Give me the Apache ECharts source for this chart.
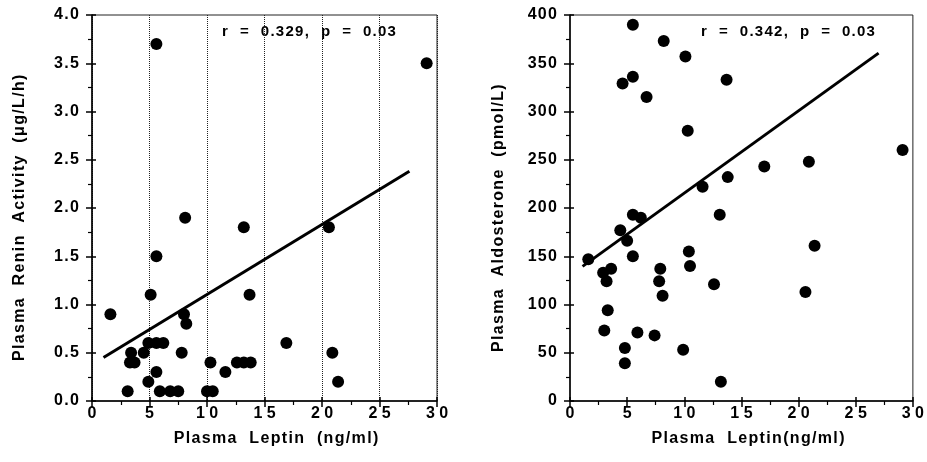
<!DOCTYPE html>
<html><head><meta charset="utf-8">
<script src="https://cdn.jsdelivr.net/npm/echarts@6/dist/echarts.min.js"></script>
<style>html,body{margin:0;padding:0;background:#fff}#c{width:927px;height:462px}</style>
</head><body><div id="c"></div>
<script>
// Left panel: Plasma Leptin (ng/ml) vs Plasma Renin Activity (µg/L/h)
const reninPoints = [
  [1.6,0.9],[3.1,0.1],[3.4,0.5],[3.3,0.4],[3.7,0.4],[4.5,0.5],[4.9,0.6],[5.6,0.6],[6.2,0.6],
  [4.9,0.2],[5.1,1.1],[5.6,1.5],[5.6,0.3],[5.6,3.7],[5.9,0.1],[6.8,0.1],[7.5,0.1],[7.8,0.5],
  [8.0,0.9],[8.2,0.8],[8.1,1.9],[10.3,0.4],[10.0,0.1],[10.5,0.1],[11.6,0.3],[12.6,0.4],
  [13.2,0.4],[13.8,0.4],[13.2,1.8],[13.7,1.1],[16.9,0.6],[20.6,1.8],[20.9,0.5],[21.4,0.2],[29.1,3.5]
];
const reninFit = [[1.0,0.45],[27.6,2.38]];
// Right panel: Plasma Leptin (ng/ml) vs Plasma Aldosterone (pmol/L)
const aldoPoints = [
  [1.6,147],[2.9,133],[3.6,137],[3.2,124],[3.3,94],[3.0,73],[4.4,177],[5.0,166],[5.5,193],
  [6.2,190],[5.5,150],[4.8,55],[4.8,39],[5.9,71],[7.4,68],[7.9,137],[7.8,124],[8.1,109],
  [9.9,53],[10.4,155],[10.5,140],[12.6,121],[13.1,193],[13.2,20],[5.5,390],[8.2,373],
  [10.1,357],[5.5,336],[4.6,329],[13.7,333],[6.7,315],[10.3,280],[11.6,222],[13.8,232],
  [17.0,243],[20.9,248],[29.1,260],[21.4,161],[20.6,113]
];
const aldoFit = [[1.1,139.5],[27.0,360.5]];
const xTicks = [0,5,10,15,20,25,30];
const reninTicks = ['0.0','0.5','1.0','1.5','2.0','2.5','3.0','3.5','4.0'];
const aldoTicks = ['0','50','100','150','200','250','300','350','400'];
const texts = {
  leftY: 'Plasma  Renin  Activity  (\u03bcg/L/h)',
  rightY: 'Plasma  Aldosterone  (pmol/L)',
  leftX: 'Plasma  Leptin  (ng/ml)',
  rightX: 'Plasma  Leptin(ng/ml)',
  leftStat: 'r  =  0.329,  p  =  0.03',
  rightStat: 'r  =  0.342,  p  =  0.03'
};

const FONT = '"Liberation Sans", Arial, sans-serif';
const spaced = s => String(s).split('').join('\u200a');
const xLabel = v => xTicks.indexOf(v) >= 0 ? String(v).split('').join(' ') : '';

function xAxes(gi) {
  return [{
    gridIndex: gi, type: 'value', min: 0, max: 30, interval: 5,
    axisLine: {lineStyle: {color: '#000', width: 1.5}},
    axisTick: {show: true, length: 6, lineStyle: {color: '#000', width: 1.5}},
    minorTick: {show: true, splitNumber: 2, length: 4, lineStyle: {color: '#000', width: 1.2}},
    axisLabel: {formatter: xLabel, color: '#000', fontFamily: FONT, fontWeight: 'bold', fontSize: 16, margin: 5},
    splitLine: gi === 0 ? {show: true, lineStyle: {color: '#222', type: [1, 1], width: 1}} : {show: false}
  }, {
    gridIndex: gi, type: 'value', min: 0, max: 30, interval: 5, position: 'bottom',
    axisLine: {show: false},
    axisTick: {show: true, inside: true, length: 4, lineStyle: {color: '#000', width: 1.5}},
    axisLabel: {show: false}, splitLine: {show: false}
  }];
}
function yAxes(gi, max, interval, labels) {
  return [{
    gridIndex: gi, type: 'value', min: 0, max: max, interval: interval,
    axisLine: {show: true, lineStyle: {color: '#000', width: 1.5}},
    axisTick: {show: true, length: 6, lineStyle: {color: '#000', width: 1.5}},
    minorTick: {show: true, splitNumber: 2, length: 4, lineStyle: {color: '#000', width: 1.2}},
    axisLabel: {formatter: (v) => spaced(labels[Math.round(v / interval)]), color: '#000', fontFamily: FONT, fontWeight: 'bold', fontSize: 16, margin: 13},
    splitLine: {show: false}
  }, {
    gridIndex: gi, type: 'value', min: 0, max: max, interval: interval, position: 'left',
    axisLine: {show: false},
    axisTick: {show: true, inside: true, length: 4, lineStyle: {color: '#000', width: 1.5}},
    axisLabel: {show: false}, splitLine: {show: false}
  }];
}

const chart = echarts.init(document.getElementById('c'));
const txt = (x, y, s, rot, align, size) => ({
  type: 'text', x: x, y: y, rotation: rot || 0,
  style: {text: spaced(s), fill: '#000', font: 'bold ' + (size || 16) + 'px ' + FONT, textAlign: align || 'center', textVerticalAlign: 'middle'}
});
chart.setOption({
  animation: false,
  grid: [
    {left: 92, right: 490, top: 15, bottom: 61, show: true, borderColor: '#222', borderWidth: 1},
    {left: 570, right: 13, top: 15, bottom: 61, show: true, borderColor: '#222', borderWidth: 1}
  ],
  xAxis: [...xAxes(0), ...xAxes(1)],
  yAxis: [...yAxes(0, 4, 0.5, reninTicks), ...yAxes(1, 400, 50, aldoTicks)],
  series: [
    {type: 'scatter', xAxisIndex: 0, yAxisIndex: 0, data: reninPoints, symbolSize: 12, itemStyle: {color: '#000', opacity: 1}},
    {type: 'line', xAxisIndex: 0, yAxisIndex: 0, data: reninFit, symbol: 'none', lineStyle: {color: '#000', width: 3}},
    {type: 'scatter', xAxisIndex: 2, yAxisIndex: 2, data: aldoPoints, symbolSize: 12, itemStyle: {color: '#000', opacity: 1}},
    {type: 'line', xAxisIndex: 2, yAxisIndex: 2, data: aldoFit, symbol: 'none', lineStyle: {color: '#000', width: 3}}
  ],
  graphic: [
    txt(20, 361, texts.leftY, Math.PI / 2, 'left'),
    txt(499, 352, texts.rightY, Math.PI / 2, 'left'),
    txt(276, 439, texts.leftX),
    txt(748, 439, texts.rightX),
    txt(309, 32, texts.leftStat, 0, 'center', 15),
    txt(788, 32, texts.rightStat, 0, 'center', 15)
  ]
});
</script></body></html>
